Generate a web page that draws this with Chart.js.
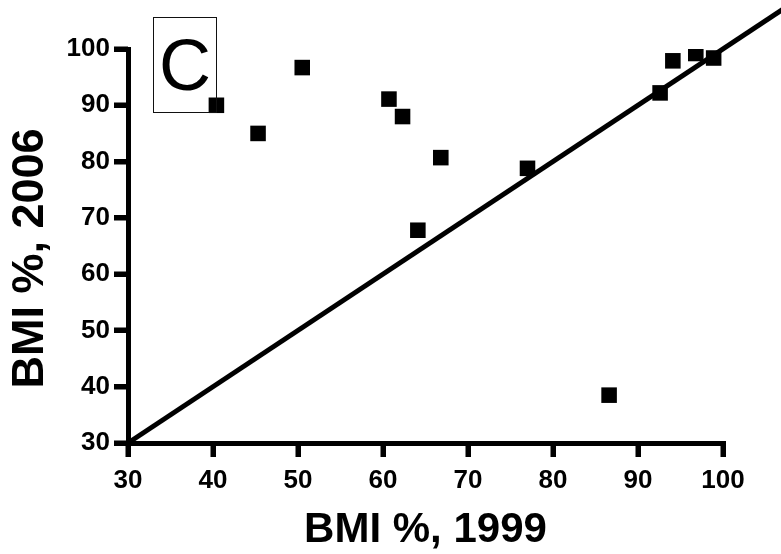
<!DOCTYPE html>
<html>
<head>
<meta charset="utf-8">
<script src="https://cdn.jsdelivr.net/npm/chart.js@4/dist/chart.umd.min.js"></script>
<style>
  html, body { margin: 0; padding: 0; background: #fff; }
  #wrap { width: 781px; height: 554px; position: relative; }
  #panel {
    position: absolute; left: 153px; top: 17px; width: 62px; height: 94px;
    border: 1.5px solid #111; box-sizing: content-box;
    font-family: 'Liberation Sans', Arial, sans-serif; font-size: 72px; line-height: 94px;
    text-align: center; color: #000; pointer-events: none;
  }
</style>
</head>
<body>
<div id="wrap"><canvas id="c" width="781" height="554"></canvas><div id="panel"></div></div>
<script>
// ---- data ----
const bmi1999 = [40.4, 45.3, 50.5, 60.7, 62.3, 64.1, 66.8, 77.0, 86.6, 92.6, 94.1, 96.8, 98.9];
const bmi2006 = [90.0, 85.0, 96.7, 91.1, 88.0, 67.8, 80.7, 78.8, 38.5, 92.2, 97.9, 99.2, 98.4];
const identityX = [30, 110];
const identityY = [30, 110];
const xTickValues = [30, 40, 50, 60, 70, 80, 90, 100];
const yTickValues = [30, 40, 50, 60, 70, 80, 90, 100];
const xTitle = 'BMI %, 1999';
const yTitle = 'BMI %, 2006';
const panelLabel = 'C';

const FONT = "'Liberation Sans', Arial, Helvetica, sans-serif";
const TICK_LEN = 14;

// outward tick marks, placed through the chart's own scales
const tickMarkPlugin = {
  id: 'tickMarks',
  afterDraw(chart) {
    const log = [];
    try {
      const ctx = chart.ctx;
      const xs = chart.scales.x, ys = chart.scales.y;
      const area = chart.chartArea;
      ctx.save();
      ctx.fillStyle = '#000000';
      xs.ticks.forEach(t => {
        const px = Math.round(xs.getPixelForValue(t.value));
        ctx.fillRect(px - 2.5, area.bottom, 5, TICK_LEN);
      });
      ys.ticks.forEach(t => {
        const py = Math.round(ys.getPixelForValue(t.value));
        ctx.fillRect(area.left - TICK_LEN, py - 2.5, TICK_LEN, 5);
      });
      ctx.restore();
    } catch (e) { log.push(e.message); }
    document.getElementById('panel').textContent = panelLabel;
  }
};

new Chart(document.getElementById('c'), {
  type: 'scatter',
  data: { datasets: [
    { type: 'line', data: identityX.map((x, i) => ({ x: x, y: identityY[i] })), borderColor: '#000', borderWidth: 5, pointRadius: 0, clip: false },
    { data: bmi1999.map((x, i) => ({ x: x, y: bmi2006[i] })), pointStyle: 'rect', pointRadius: 11, backgroundColor: '#000', borderWidth: 0 }
  ]},
  options: {
    responsive: false, animation: false, devicePixelRatio: 1,
    layout: { padding: { top: 49, right: 58, left: 0, bottom: 0 } },
    plugins: { legend: { display: false }, tooltip: { enabled: false } },
    scales: {
      x: { type: 'linear', min: 30, max: 100, border: { color: '#000', width: 5 },
        grid: { drawOnChartArea: false, tickLength: TICK_LEN, tickWidth: 5, tickColor: '#000', color: '#000', lineWidth: 5 },
        afterBuildTicks: s => { s.ticks = xTickValues.map(v => ({ value: v })); },
        afterFit: s => { s.height = 111; },
        ticks: { color: '#000', padding: 8, font: { family: FONT, size: 26, weight: 'bold' } },
        title: { display: true, text: xTitle, color: '#000', font: { family: FONT, size: 42, weight: 'bold', lineHeight: 1.1 }, padding: 0 } },
      y: { type: 'linear', min: 30, max: 100, border: { color: '#000', width: 5 },
        grid: { drawOnChartArea: false, tickLength: TICK_LEN, tickWidth: 5, tickColor: '#000', color: '#000', lineWidth: 5 },
        afterBuildTicks: s => { s.ticks = yTickValues.map(v => ({ value: v })); },
        afterFit: s => { s.width = 128; },
        ticks: { color: '#000', padding: 4, font: { family: FONT, size: 26, weight: 'bold' } },
        title: { display: true, text: yTitle + '\u00a0\u00a0', color: '#000', font: { family: FONT, size: 45, weight: 'bold' }, padding: { top: 4, bottom: 0 } } }
    }
  },
  plugins: [tickMarkPlugin]
});
</script>
</body>
</html>
